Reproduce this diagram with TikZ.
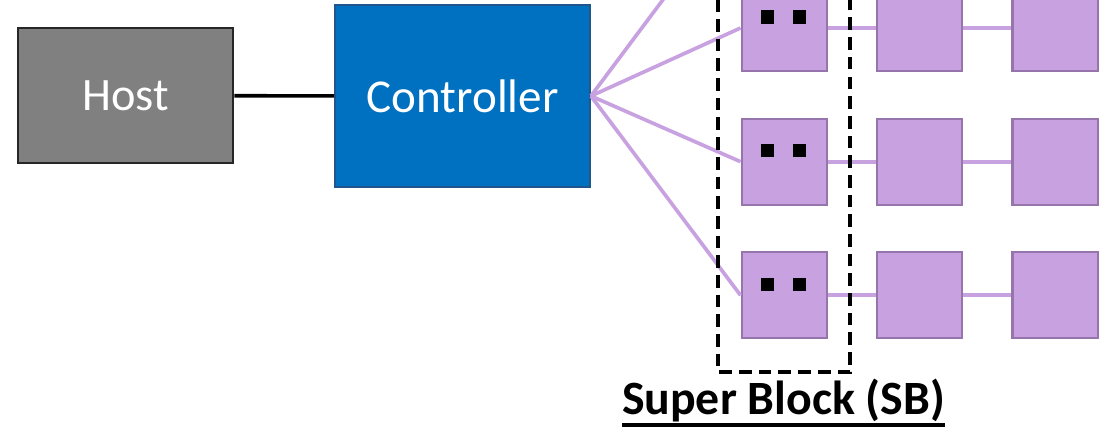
\documentclass[tikz,border=0pt]{standalone}
\usepackage{fontspec}
\setmainfont{Carlito}
\usetikzlibrary{positioning}

\definecolor{hostgray}{RGB}{128,128,128}
\definecolor{ctrlblue}{RGB}{0,112,192}
\definecolor{ctrledge}{RGB}{32,86,140}
\definecolor{blockfill}{RGB}{200,161,224}
\definecolor{blockedge}{RGB}{150,116,172}

% underlined label text
\newcommand\sbunder[1]{\setbox0\hbox{#1}\rlap{\rule[-9pt]{\wd0}{2.4pt}}\box0}

\begin{document}
\begin{tikzpicture}[x=0.025cm, y=-0.025cm,
		host/.style={draw=black!85, fill=hostgray, line width=1.6pt, minimum width=5.39cm, minimum height=3.375cm, text=white, font=\fontsize{33}{40}\selectfont},
		ctrl/.style={draw=ctrledge, fill=ctrlblue, line width=1.3pt, minimum width=6.375cm, minimum height=4.55cm, text=white, font=\fontsize{33.5}{40}\selectfont},
		block/.style={draw=blockedge, fill=blockfill, line width=1.5pt, minimum width=2.14cm, minimum height=2.15cm, inner sep=0pt},
		dot/.style={fill=black, minimum size=0.335cm, inner sep=0pt},
		chan/.style={draw=blockfill, line width=2.6pt},
		sbbox/.style={draw=black, line width=2.4pt, dash pattern=on 9pt off 5pt},
		sblabel/.style={font=\fontsize{34}{40}\selectfont\bfseries, inner sep=0pt}]
	\useasboundingbox (0,0) rectangle (1099,428);
	\clip (0,0) rectangle (1099,428);

	\node[host]	(host)	at (125.5, 95.7)	{Host};
	\node[ctrl]	(ctrl)	at (462.5, 96)	{Controller};
	\draw[black, line width=2.6pt] (host) -- (ctrl);

	% flash blocks, one row per channel
	\foreach \r/\y in {1/28, 2/161.7, 3/295.3}
		\foreach \c/\x in {1/784.4, 2/919.5, 3/1055.3}
			\node[block]	(b\r\c)	at (\x, \y)	{};

	\coordinate (b01) at (742, -106);

	\path[chan]	(ctrl.east) edge (b01)
				(ctrl.east) edge (b11.west)
				(ctrl.east) edge (b21.west)
				(ctrl.east) edge (b31.west);
	\foreach \r in {1, 2, 3}{
		\path[chan]	(b\r1) edge (b\r2)
					(b\r2) edge (b\r3);
		\node[dot] at ([shift={(-16.7,-11)}]b\r1.center) {};
		\node[dot] at ([shift={(15.1,-11)}]b\r1.center) {};
	}

	\draw[sbbox] (718, -40) rectangle (850, 372);
	\node[sblabel, anchor=base] (sb) at (783.5, 414) {\sbunder{Super Block (SB)}};
\end{tikzpicture}
\end{document}
